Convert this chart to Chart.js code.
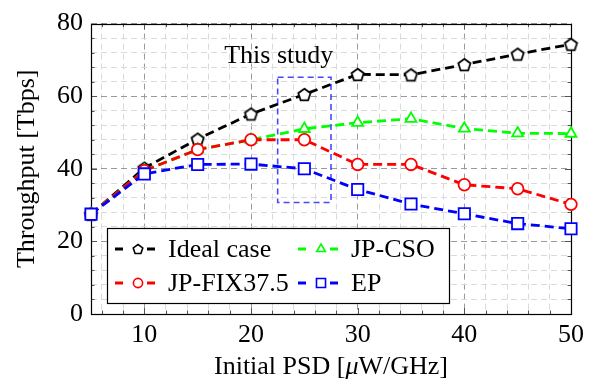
<!DOCTYPE html>
<html>
<head>
<meta charset="utf-8">
<script src="https://cdn.jsdelivr.net/npm/chart.js@4"></script>
<style>
html, body { margin: 0; padding: 0; background: #fff; }
</style>
</head>
<body>
<canvas id="c" width="590" height="383"></canvas>
<script>
const psd = [5, 10, 15, 20, 25, 30, 35, 40, 45, 50];
const ideal = [27.5, 40.2, 48.2, 55.1, 60.5, 66.0, 65.9, 68.7, 71.6, 74.3];
const jpCso = [27.5, 39.5, 45.3, 48.0, 51.0, 52.7, 53.8, 51.1, 49.8, 49.7];
const jpFix = [27.5, 39.5, 45.3, 48.0, 48.0, 41.2, 41.2, 35.6, 34.5, 30.2];
const ep = [27.5, 38.6, 41.2, 41.3, 40.0, 34.3, 30.3, 27.6, 24.9, 23.5];

const xTicks = [6, 8, 10, 12, 14, 16, 18, 20, 22, 24, 26, 28, 30, 32, 34, 36, 38, 40, 42, 44, 46, 48, 50];
const yTicks = [0, 4, 8, 12, 16, 20, 24, 28, 32, 36, 40, 44, 48, 52, 56, 60, 64, 68, 72, 76, 80];

// "This study" box and label, in data units
const studyX = [22.5, 27.5];
const studyY = [30.7, 65.2];
const studyLabel = { text: 'This study', x: 22.6, y: 69.2 };

const FONT = '"Liberation Serif", "Times New Roman", serif';

function pentagon(r, lw) {
	const c = document.createElement('canvas');
	const s = Math.ceil(2 * r + lw + 2);
	c.width = s; c.height = s;
	const g = c.getContext('2d');
	g.beginPath();
	for (let i = 0; i < 5; i++) {
		const a = -Math.PI / 2 + i * 2 * Math.PI / 5;
		const px = s / 2 + r * Math.cos(a), py = s / 2 + r * Math.sin(a) + r * 0.1;
		i ? g.lineTo(px, py) : g.moveTo(px, py);
	}
	g.closePath();
	g.fillStyle = '#fff';
	g.fill();
	g.lineWidth = lw;
	g.strokeStyle = '#000';
	g.stroke();
	return c;
}

const penBig = pentagon(6.4, 1.8);
const penSmall = pentagon(5, 1.6);

function series(label, values, color, style, radius, order, legendStyle) {
	return {
		label,
		data: psd.map((x, i) => ({ x, y: values[i] })),
		borderColor: color,
		borderWidth: 2.8,
		borderDash: [9, 5],
		pointStyle: style,
		pointRadius: radius,
		pointBorderWidth: 1.8,
		pointBorderColor: color,
		pointBackgroundColor: '#fff',
		tension: 0,
		clip: false,
		order,
		legendStyle
	};
}

const decor = {
	id: 'decor',
	beforeDatasetsDraw(chart) {
		const { ctx, chartArea: a, scales: { x, y } } = chart;
		ctx.save();
		ctx.strokeStyle = '#555';
		ctx.lineWidth = 1;
		x.ticks.forEach(t => {
			const px = Math.round(x.getPixelForValue(t.value)) + 0.5;
			const len = t.value % 10 === 0 ? 6 : 3.5;
			ctx.beginPath();
			ctx.moveTo(px, a.bottom); ctx.lineTo(px, a.bottom - len);
			ctx.moveTo(px, a.top); ctx.lineTo(px, a.top + len);
			ctx.stroke();
		});
		y.ticks.forEach(t => {
			const py = Math.round(y.getPixelForValue(t.value)) + 0.5;
			const len = t.value % 20 === 0 ? 6 : 3.5;
			ctx.beginPath();
			ctx.moveTo(a.left, py); ctx.lineTo(a.left + len, py);
			ctx.moveTo(a.right, py); ctx.lineTo(a.right - len, py);
			ctx.stroke();
		});
		ctx.strokeStyle = '#000';
		ctx.lineWidth = 1.2;
		ctx.strokeRect(Math.round(a.left) + 0.5, Math.round(a.top) + 0.5, Math.round(a.right - a.left), Math.round(a.bottom - a.top));

		// axis titles
		ctx.fillStyle = '#000';
		ctx.textBaseline = 'middle';
		ctx.font = '26px ' + FONT;
		const p1 = 'Initial PSD [', p3 = 'W/GHz]';
		const w1 = ctx.measureText(p1).width, w3 = ctx.measureText(p3).width;
		ctx.font = 'italic 26px ' + FONT;
		const w2 = ctx.measureText('μ').width;
		let sx = (a.left + a.right) / 2 - (w1 + w2 + w3) / 2;
		const ty = 367;
		ctx.textAlign = 'left';
		ctx.font = '26px ' + FONT;
		ctx.fillText(p1, sx, ty);
		ctx.font = 'italic 26px ' + FONT;
		ctx.fillText('μ', sx + w1, ty);
		ctx.font = '26px ' + FONT;
		ctx.fillText(p3, sx + w1 + w2, ty);

		ctx.translate(27, (a.top + a.bottom) / 2);
		ctx.rotate(-Math.PI / 2);
		ctx.textAlign = 'center';
		ctx.fillText('Throughput [Tbps]', 0, 0);
		ctx.restore();
	},
	afterDatasetsDraw(chart) {
		const { ctx, scales: { x, y } } = chart;
		ctx.save();
		// study box
		const x0 = x.getPixelForValue(studyX[0]), x1 = x.getPixelForValue(studyX[1]);
		const y0 = y.getPixelForValue(studyY[1]), y1 = y.getPixelForValue(studyY[0]);
		ctx.strokeStyle = 'rgba(0,0,255,0.72)';
		ctx.lineWidth = 1.6;
		ctx.setLineDash([6, 4]);
		ctx.strokeRect(x0, y0, x1 - x0, y1 - y0);
		ctx.setLineDash([]);
		ctx.fillStyle = '#000';
		ctx.font = '26px ' + FONT;
		ctx.textAlign = 'center';
		ctx.textBaseline = 'alphabetic';
		ctx.fillText(studyLabel.text, x.getPixelForValue(studyLabel.x), y.getPixelForValue(studyLabel.y));

		// legend
		const bx = 107.5, by = 228.5, bw = 342, bh = 75;
		ctx.fillStyle = '#fff';
		ctx.fillRect(bx, by, bw, bh);
		ctx.strokeStyle = '#000';
		ctx.lineWidth = 1.2;
		ctx.strokeRect(bx, by, bw, bh);
		const cols = [115, 298], rows = [249, 283];
		chart.data.datasets.forEach((ds, i) => {
			const cx = cols[i % 2], cy = rows[Math.floor(i / 2)];
			ctx.strokeStyle = ds.borderColor;
			ctx.lineWidth = 2.8;
			ctx.beginPath();
			ctx.moveTo(cx, cy); ctx.lineTo(cx + 8, cy);
			ctx.moveTo(cx + 32, cy); ctx.lineTo(cx + 40, cy);
			ctx.stroke();
			const mx = cx + 23;
			if (ds.legendStyle === 'pentagon') {
				ctx.drawImage(penSmall, mx - penSmall.width / 2, cy - penSmall.height / 2);
			} else {
				ctx.fillStyle = '#fff';
				ctx.lineWidth = 1.6;
				const r = ds.legendStyle === 'rect' ? 6.4 : ds.legendStyle === 'triangle' ? 5 : 4.6;
				Chart.helpers.drawPoint(ctx, { pointStyle: ds.legendStyle, radius: r, borderWidth: 1.6, rotation: 0 }, mx, cy);
			}
			ctx.fillStyle = '#000';
			ctx.font = '26px ' + FONT;
			ctx.textAlign = 'left';
			ctx.textBaseline = 'middle';
			ctx.fillText(ds.label, cx + 53, cy + 1);
		});
		ctx.restore();
	}
};

new Chart(document.getElementById('c'), {
	type: 'line',
	data: {
		datasets: [
			series('Ideal case', ideal, '#000000', penBig, 6, 4, 'pentagon'),
			series('JP-CSO', jpCso, '#00ff00', 'triangle', 6.3, 3, 'triangle'),
			series('JP-FIX37.5', jpFix, '#ff0000', 'circle', 5.8, 2, 'circle'),
			series('EP', ep, '#0000ff', 'rect', 8, 1, 'rect')
		]
	},
	options: {
		responsive: false,
		animation: false,
		layout: { padding: { top: 17, right: 13, left: 0, bottom: 0 } },
		plugins: { legend: { display: false }, tooltip: { enabled: false } },
		scales: {
			x: {
				type: 'linear',
				min: 5,
				max: 50,
				afterBuildTicks: s => { s.ticks = xTicks.map(v => ({ value: v })); },
				afterFit: s => { s.height = 69; },
				ticks: {
					autoSkip: false,
					maxRotation: 0,
					padding: 6,
					color: '#000',
					font: { family: FONT, size: 26 },
					callback: v => (v % 10 === 0 ? v : '')
				},
				grid: {
					drawTicks: false,
					lineWidth: 1,
					color: c => (c.tick && c.tick.value % 10 === 0 ? '#9a9a9a' : '#dadada')
				},
				border: { display: false, dash: [6, 4] }
			},
			y: {
				min: 0,
				max: 80,
				afterBuildTicks: s => { s.ticks = yTicks.map(v => ({ value: v })); },
				afterFit: s => { s.width = 91; },
				ticks: {
					autoSkip: false,
					padding: 8,
					color: '#000',
					font: { family: FONT, size: 26 },
					callback: v => (v % 20 === 0 ? v : '')
				},
				grid: {
					drawTicks: false,
					lineWidth: 1,
					color: c => (c.tick && c.tick.value % 20 === 0 ? '#9a9a9a' : '#dadada')
				},
				border: { display: false, dash: [6, 4] }
			}
		}
	},
	plugins: [decor]
});
</script>
</body>
</html>
